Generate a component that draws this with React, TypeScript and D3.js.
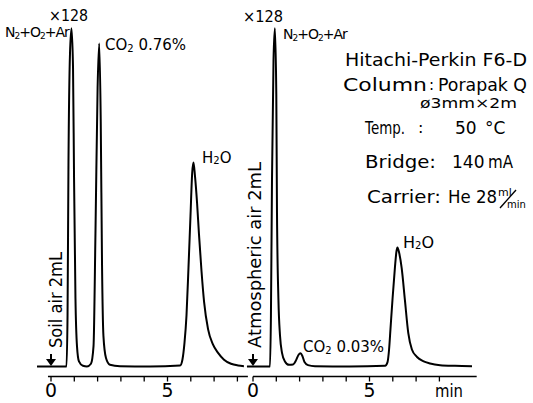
import React from 'react';
import * as d3 from 'd3';

// ---- data (time in min from injection, signal in arbitrary units) ----
const panelNames = ['Soil air 2mL', 'Atmospheric air 2mL'];

const soilTime = [-0.6, 0.665, 0.71, 0.75, 0.815, 0.88, 0.945, 0.99, 1.05, 1.115, 1.2, 1.37, 1.545, 1.715, 1.825, 1.91, 2.0, 2.07, 2.135, 2.19, 2.25, 2.36, 2.53, 2.96, 4.25, 5.54, 5.64, 5.73, 5.815, 5.9, 5.985, 6.06, 6.115, 6.18, 6.27, 6.35, 6.46, 6.57, 6.74, 6.95, 7.17, 7.425, 7.725, 8.03, 8.28];
const soilSignal = [0, 0, 15, 60, 92, 99.5, 88, 55, 20, 6, 1.5, 0.2, 0, 0.8, 6, 40, 82, 95, 72, 30, 9, 2.5, 0.5, 0.1, 0, 0.3, 2, 7, 15, 29, 44, 57, 60, 56, 48, 39, 28, 19, 11, 6.5, 4, 2, 0.8, 0.3, 0.1];

const atmTime = [-0.26, 0.73, 0.77, 0.815, 0.88, 0.94, 1.0, 1.03, 1.09, 1.16, 1.245, 1.37, 1.545, 1.72, 1.845, 1.95, 2.04, 2.125, 2.21, 2.36, 2.66, 4.16, 5.67, 5.77, 5.84, 5.9, 5.99, 6.09, 6.16, 6.2, 6.27, 6.38, 6.52, 6.665, 6.82, 7.04, 7.3, 7.6, 8.03, 8.67, 9.4];
const atmSignal = [0, 0, 15, 55, 90, 99.5, 80, 45, 20, 9, 4, 1.5, 0.5, 0.6, 1.8, 3.4, 3.9, 3.0, 1.3, 0.4, 0.1, 0, 0.2, 1.2, 5, 11, 20, 29, 34, 35, 33.5, 29, 19.5, 9.8, 5, 2.8, 1.6, 0.9, 0.4, 0.2, 0.1];

const tickMinutes = [0, 1, 2, 3, 4, 5, 6, 7, 8];
const tickLabelMinutes = [0, 5];

const W = 533;
const H = 403;
const FONT = 'DejaVu Sans';

type Pt = [number, number];

function Arrow({ x }: { x: number }) {
  return (
    <g>
      <line x1={x} x2={x} y1={354} y2={361} stroke="#000" strokeWidth={2} />
      <path d={`M${x - 5},${359} L${x + 5},${359} L${x},${366} Z`} fill="#000" />
    </g>
  );
}

export default function App() {
  const y = d3.scaleLinear().domain([0, 100]).range([366.5, 26.5]);
  const x1 = d3.scaleLinear().domain([0, 8]).range([51, 237.4]);
  const x2 = d3.scaleLinear().domain([0, 8]).range([253, 439.4]);

  const mkLine = (xs: d3.ScaleLinear<number, number>) =>
    d3
      .line<Pt>()
      .x((d) => xs(d[0]))
      .y((d) => y(d[1]))
      .curve(d3.curveMonotoneX);

  const soilPts: Pt[] = soilTime.map((t, i) => [t, soilSignal[i]]);
  const atmPts: Pt[] = atmTime.map((t, i) => [t, atmSignal[i]]);

  const axisY = 376.5;
  const panels = [
    { xs: x1, pts: soilPts, axisDomain: [-0.13, 8.45] },
    { xs: x2, pts: atmPts, axisDomain: [0, 9.6] },
  ];

  return (
    <svg
      width={W}
      height={H}
      viewBox={`0 0 ${W} ${H}`}
      style={{ position: 'absolute', left: 0, top: 0, background: '#fff' }}
      fontFamily={FONT}
    >
      <rect x={0} y={0} width={W} height={H} fill="#fff" />
      {panels.map((p, i) => (
        <g key={i}>
          <path d={mkLine(p.xs)(p.pts) || ''} fill="none" stroke="#000" strokeWidth={2} strokeLinejoin="round" />
          <line x1={p.xs(p.axisDomain[0])} x2={p.xs(p.axisDomain[1])} y1={axisY} y2={axisY} stroke="#000" strokeWidth={1.6} />
          {tickMinutes.map((m) => (
            <line key={m} x1={p.xs(m)} x2={p.xs(m)} y1={axisY} y2={axisY + 5} stroke="#000" strokeWidth={1.3} />
          ))}
          {tickLabelMinutes.map((m) => (
            <text key={m} x={p.xs(m)} y={397} textAnchor="middle" fontSize={20} textLength={12} lengthAdjust="spacingAndGlyphs">
              {String(m)}
            </text>
          ))}
          <Arrow x={p.xs(0)} />
        </g>
      ))}

      <text x={435} y={397} fontSize={18} textLength={28} lengthAdjust="spacingAndGlyphs">min</text>

      {/* rotated sample labels */}
      <text transform={`translate(62,348) rotate(-90)`} fontSize={18} textLength={96} lengthAdjust="spacingAndGlyphs">
        {panelNames[0]}
      </text>
      <text transform={`translate(261,348) rotate(-90)`} fontSize={18} textLength={186} lengthAdjust="spacingAndGlyphs">
        {panelNames[1]}
      </text>

      {/* peak labels, panel 1 */}
      <text x={49} y={21} fontSize={15} textLength={39} lengthAdjust="spacingAndGlyphs">×128</text>
      <text x={5} y={37} fontSize={14} letterSpacing={-1}>
        N<tspan fontSize={9} dy={2}>2</tspan>
        <tspan dy={-2}>+O</tspan>
        <tspan fontSize={9} dy={2}>2</tspan>
        <tspan dy={-2}>+Ar</tspan>
      </text>
      <text x={105} y={50} fontSize={15}>
        CO<tspan fontSize={10} dy={2}>2</tspan>
        <tspan dy={-2}> 0.76%</tspan>
      </text>
      <text x={202} y={163} fontSize={15}>
        H<tspan fontSize={10} dy={1}>2</tspan>
        <tspan dy={-1}>O</tspan>
      </text>

      {/* peak labels, panel 2 */}
      <text x={243} y={22} fontSize={15} textLength={40} lengthAdjust="spacingAndGlyphs">×128</text>
      <text x={283} y={39} fontSize={14} letterSpacing={-1}>
        N<tspan fontSize={9} dy={2}>2</tspan>
        <tspan dy={-2}>+O</tspan>
        <tspan fontSize={9} dy={2}>2</tspan>
        <tspan dy={-2}>+Ar</tspan>
      </text>
      <text x={303} y={352} fontSize={15}>
        CO<tspan fontSize={10} dy={2}>2</tspan>
        <tspan dy={-2}> 0.03%</tspan>
      </text>
      <text x={403} y={248} fontSize={16}>
        H<tspan fontSize={10} dy={1}>2</tspan>
        <tspan dy={-1}>O</tspan>
      </text>

      {/* conditions */}
      <text x={345} y={66} fontSize={17} textLength={182} lengthAdjust="spacingAndGlyphs">Hitachi-Perkin F6-D</text>
      <text x={343} y={91} fontSize={17} textLength={84} lengthAdjust="spacingAndGlyphs">Column</text>
      <text x={429} y={90} fontSize={15}>:</text>
      <text x={438} y={91} fontSize={17} textLength={89} lengthAdjust="spacingAndGlyphs">Porapak Q</text>
      <text x={420} y={108} fontSize={14} textLength={97} lengthAdjust="spacingAndGlyphs">ø3mm×2m</text>
      <text x={365} y={134} fontSize={17} textLength={40} lengthAdjust="spacingAndGlyphs">Temp.</text>
      <text x={418} y={133} fontSize={16}>:</text>
      <text x={455} y={134} fontSize={17}>50</text>
      <text x={485} y={134} fontSize={17}>°C</text>
      <text x={365} y={168} fontSize={17} textLength={71} lengthAdjust="spacingAndGlyphs">Bridge:</text>
      <text x={452} y={168} fontSize={17}>140</text>
      <text x={488} y={168} fontSize={17} textLength={25} lengthAdjust="spacingAndGlyphs">mA</text>
      <text x={367} y={203} fontSize={17} textLength={74} lengthAdjust="spacingAndGlyphs">Carrier:</text>
      <text x={448} y={203} fontSize={17} textLength={49} lengthAdjust="spacingAndGlyphs">He 28</text>
      <text x={498} y={196} fontSize={11}>ml</text>
      <line x1={500} y1={208} x2={516} y2={190} stroke="#000" strokeWidth={1.4} />
      <text x={507} y={208} fontSize={10}>min</text>
    </svg>
  );
}
